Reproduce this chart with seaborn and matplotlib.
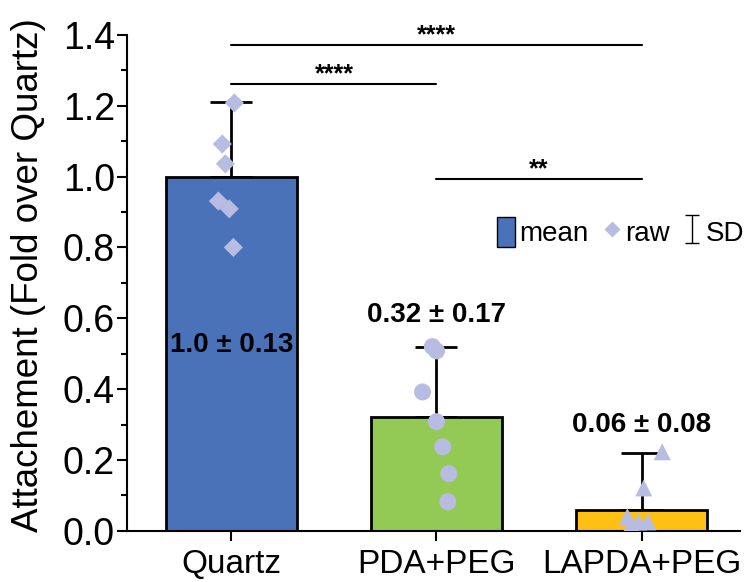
import numpy as np
import pandas as pd
import matplotlib
matplotlib.use("Agg")
import matplotlib.pyplot as plt
import seaborn as sns
from matplotlib.patches import Patch
from matplotlib.lines import Line2D
from matplotlib.ticker import MultipleLocator, FormatStrFormatter

# ---- data ----
categories = ["Quartz", "PDA+PEG", "LAPDA+PEG"]
means = [1.0, 0.32, 0.06]
sd_labels = ["1.0 ± 0.13", "0.32 ± 0.17", "0.06 ± 0.08"]
err_upper = [0.21, 0.20, 0.16]
raw_quartz = [1.208, 1.092, 1.036, 0.931, 0.909, 0.80]
raw_pda = [0.52, 0.508, 0.392, 0.308, 0.237, 0.161, 0.082]
raw_lapda = [0.223, 0.121, 0.040, 0.025, 0.025, 0.020, 0.010]
significance = [("Quartz", "LAPDA+PEG", 1.372, "****"),
                ("Quartz", "PDA+PEG", 1.262, "****"),
                ("PDA+PEG", "LAPDA+PEG", 0.993, "**")]

# ---- style ----
jit_quartz = [0.015, -0.044, -0.029, -0.063, -0.010, 0.010]
jit_pda = [-0.02, 0.0, -0.068, 0.0, 0.03, 0.06, 0.055]
jit_lapda = [0.10, 0.01, -0.07, -0.015, 0.03, -0.05, -0.04]
label_y = [0.525, 0.61, 0.30]
bar_colors = ["#4A72B8", "#93C955", "#FEC012"]
raw_color = "#B8BCE2"

sns.set_theme(style="ticks")
plt.rcParams["font.family"] = ["Liberation Sans", "DejaVu Sans"]
plt.rcParams["text.color"] = "black"
plt.rcParams["axes.labelcolor"] = "black"
plt.rcParams["xtick.color"] = "black"
plt.rcParams["ytick.color"] = "black"

fig = plt.figure(figsize=(7.53, 5.82), dpi=100)
ax = fig.add_axes([0.169, 0.088, 0.814, 0.852])

df = pd.DataFrame({"group": categories, "mean": means})
sns.barplot(data=df, x="group", y="mean", hue="group", palette=bar_colors,
            order=categories, width=0.64, edgecolor="black", linewidth=2,
            saturation=1, legend=False, ax=ax, zorder=2)

xpos = np.arange(len(categories))
ax.errorbar(xpos, means, yerr=[np.zeros(len(means)), err_upper], fmt="none",
            ecolor="black", elinewidth=2, capsize=15, capthick=2, zorder=1)

raw_sets = [(raw_quartz, jit_quartz, "D", 95),
            (raw_pda, jit_pda, "o", 150),
            (raw_lapda, jit_lapda, "^", 150)]
for i, (vals, jit, mk, s) in enumerate(raw_sets):
    xs = [i + j for j in jit]
    sns.scatterplot(x=xs, y=vals, marker=mk, s=s, color=raw_color,
                    edgecolor="none", ax=ax, zorder=3)

for i, lab in enumerate(sd_labels):
    ax.text(i, label_y[i], lab, ha="center", va="center", fontsize=20,
            fontweight="bold", color="black", zorder=4)

for a, b, y, star in significance:
    x1, x2 = categories.index(a), categories.index(b)
    ax.plot([x1, x2], [y, y], color="black", lw=1.5, clip_on=False)
    ax.text((x1 + x2) / 2, y + 0.008, star, ha="center", va="baseline",
            fontsize=18, fontweight="bold", clip_on=False)

ax.set_ylim(0, 1.4)
ax.set_xlim(-0.507, 2.48)
ax.yaxis.set_major_locator(MultipleLocator(0.2))
ax.yaxis.set_minor_locator(MultipleLocator(0.1))
ax.yaxis.set_major_formatter(FormatStrFormatter("%.1f"))
ax.set_xlabel("")
ax.set_ylabel("Attachement (Fold over Quartz)", fontsize=26.5)
ax.yaxis.set_label_coords(-0.132, 0.515)
ax.tick_params(axis="y", which="major", labelsize=27, length=7, width=1.5,
               direction="out", pad=2)
ax.tick_params(axis="y", which="minor", length=4, width=1.5, direction="out")
ax.tick_params(axis="x", which="major", labelsize=24, length=7, width=1.5,
               direction="out", pad=6)
for sp in ["top", "right"]:
    ax.spines[sp].set_visible(False)
for sp in ["left", "bottom"]:
    ax.spines[sp].set_linewidth(1.5)
    ax.spines[sp].set_color("black")

eb = ax.errorbar([0], [-1], yerr=[0.1], fmt="none", ecolor="black",
                 elinewidth=1, capsize=5, capthick=1)
handles = [Patch(facecolor=bar_colors[0], edgecolor="black", linewidth=1),
           Line2D([], [], marker="D", linestyle="none", color=raw_color, markersize=7),
           eb]
ax.legend(handles, ["mean", "raw", "SD"], ncol=3, frameon=False, fontsize=20,
          loc="center", bbox_to_anchor=(0.805, 0.603), handlelength=0.65,
          handleheight=1.3, handletextpad=0.15, columnspacing=0.5,
          borderaxespad=0, borderpad=0)

fig.savefig("out.png", dpi=100)
